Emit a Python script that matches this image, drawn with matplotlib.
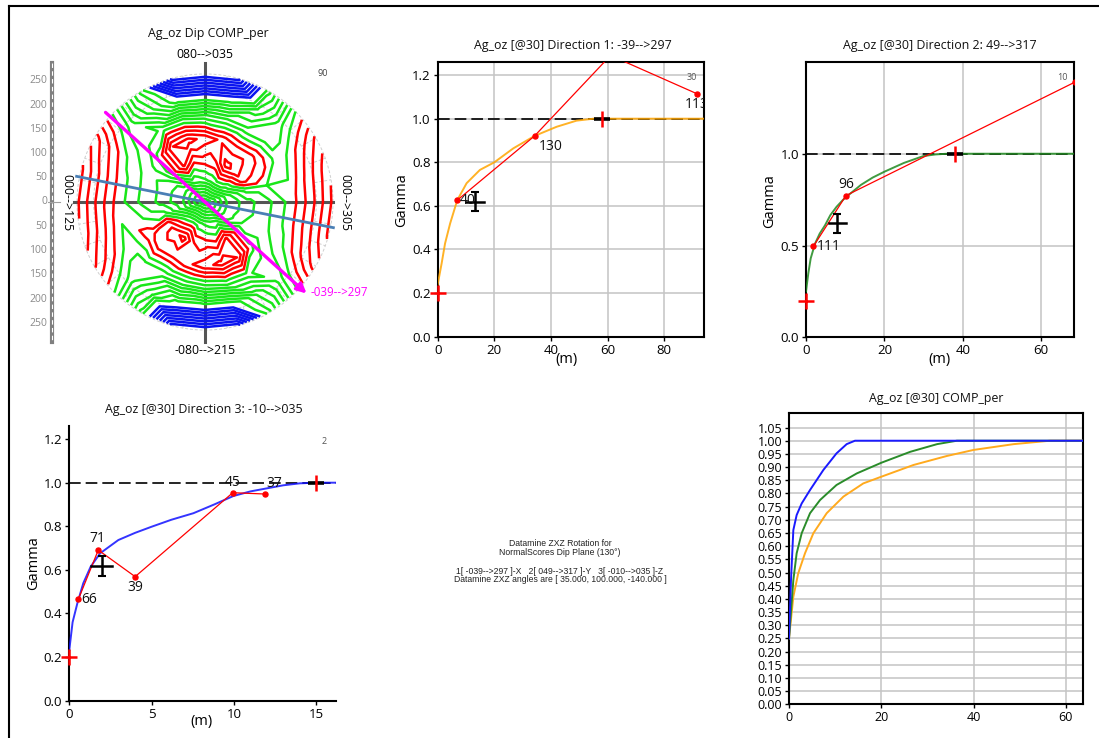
import numpy as np
import matplotlib
matplotlib.use("Agg")
import matplotlib.pyplot as plt
import matplotlib.tri as mtri

plt.rcParams['font.family'] = ['Open Sans', 'DejaVu Sans']

# ---------------------------------------------------------------- data
# Variogram map in the dip plane: gamma by direction (half circle, the
# opposite direction carries the same value) and by fraction of max lag.
map_angles_deg = [0, 15, 30, 45, 60, 75, 90, 105, 120, 135, 150, 165]
map_radius_frac = [0.17, 0.33, 0.50, 0.67, 0.83, 1.00]
map_center_gamma = 0.50
map_gamma = [
    [0.70, 0.78, 0.84, 0.92, 1.03, 1.16],
    [0.72, 0.86, 0.90, 0.90, 1.02, 1.14],
    [0.80, 1.02, 0.98, 0.86, 0.96, 1.06],
    [0.86, 1.08, 1.02, 0.84, 0.84, 0.90],
    [0.88, 1.12, 1.00, 0.80, 0.66, 0.58],
    [0.86, 1.00, 1.04, 0.80, 0.50, 0.12],
    [0.84, 0.98, 1.08, 0.82, 0.48, 0.10],
    [0.82, 0.96, 1.12, 0.85, 0.50, 0.12],
    [0.80, 1.06, 1.10, 0.86, 0.66, 0.58],
    [0.72, 0.94, 0.92, 0.82, 0.84, 0.88],
    [0.70, 0.80, 0.82, 0.88, 0.98, 1.08],
    [0.70, 0.78, 0.84, 0.92, 1.03, 1.16],
]
map_levels_blue = [0.15, 0.20, 0.25, 0.30, 0.35, 0.40, 0.45]
map_levels_green = [0.55, 0.60, 0.65, 0.70, 0.75, 0.80, 0.85, 0.90]
map_levels_red = [0.95, 1.00, 1.05, 1.10, 1.15]
map_max_lag = 264
map_scale_ticks = [250, 200, 150, 100, 50, 0, -50, -100, -150, -200, -250]
map_dir1_angle = -42.0      # -039-->297 trace on the map
map_dir2_angle = -11.3      # second trace on the map

# Direction 1: -39-->297
d1_lag = [6.9, 34.2, 61.0, 91.4]
d1_gamma = [0.626, 0.921, 1.29, 1.115]
d1_pairs = ['40', '130', None, '113']
d1_model_lag = [0, 1.4, 2.6, 4.4, 6.9, 10.2, 14.9, 20, 26.7, 34.2, 42, 49, 55, 94.1]
d1_model_gamma = [0.24, 0.337, 0.428, 0.52, 0.626, 0.704, 0.765, 0.80, 0.864,
                  0.921, 0.963, 0.991, 1.0, 1.0]
d1_nugget = 0.2
d1_range = 58
d1_cross = (13.2, 0.62)

# Direction 2: 49-->317
d2_lag = [1.87, 10.2, 68.6]
d2_gamma = [0.495, 0.772, 1.39]
d2_pairs = ['111', '96', None]
d2_model_lag = [0, 0.6, 1.2, 2.3, 3.5, 4.85, 6.2, 7.8, 9.5, 11.2, 14, 17, 20, 25,
                29.9, 33, 36, 68.45]
d2_model_gamma = [0.25, 0.35, 0.43, 0.51, 0.565, 0.61, 0.665, 0.711, 0.75, 0.781,
                  0.83, 0.87, 0.902, 0.95, 0.987, 0.996, 1.0, 1.0]
d2_nugget = 0.2
d2_range = 38
d2_cross = (8.0, 0.62)

# Direction 3: -10-->035
d3_lag = [0.55, 1.76, 4.0, 9.93, 11.9]
d3_gamma = [0.465, 0.691, 0.569, 0.954, 0.948]
d3_pairs = ['66', '71', '39', '45', '37']
d3_model_lag = [0, 0.2, 0.49, 0.85, 1.3, 1.87, 2.98, 4.0, 5.0, 6.2, 7.54, 8.8,
                9.97, 11, 12, 13, 14, 15, 16.2]
d3_model_gamma = [0.233, 0.36, 0.447, 0.539, 0.615, 0.676, 0.737, 0.77, 0.798,
                  0.83, 0.86, 0.9, 0.939, 0.96, 0.974, 0.988, 0.997, 1.0, 1.0]
d3_nugget = 0.2
d3_range = 15
d3_cross = (1.97, 0.62)

# Combined models
comp_blue_lag = [0, 0.43, 0.94, 1.66, 2.75, 4.56, 7.45, 10.3, 12.5, 14.3, 63.8]
comp_blue_gamma = [0.25, 0.471, 0.661, 0.718, 0.762, 0.813, 0.889, 0.952, 0.987, 1.0, 1.0]
comp_green_lag = [0, 0.94, 1.66, 2.75, 4.56, 6.73, 10.3, 14.7, 20.1, 26.3, 32.1, 36.4, 63.8]
comp_green_gamma = [0.25, 0.471, 0.573, 0.649, 0.725, 0.775, 0.832, 0.876, 0.917,
                    0.958, 0.987, 1.0, 1.0]
comp_orange_lag = [0, 0.94, 2.0, 3.47, 5.28, 8.17, 11.8, 16.1, 20.1, 27, 34.2, 40,
                   48.7, 56.6, 63.8]
comp_orange_gamma = [0.25, 0.408, 0.497, 0.573, 0.649, 0.725, 0.788, 0.838, 0.864,
                     0.908, 0.942, 0.965, 0.987, 1.0, 1.0]
comp_yticks = [0.00, 0.05, 0.10, 0.15, 0.20, 0.25, 0.30, 0.35, 0.40, 0.45, 0.50,
               0.55, 0.60, 0.65, 0.70, 0.75, 0.80, 0.85, 0.90, 0.95, 1.00, 1.05]

rotation_text = [
    "Datamine ZXZ Rotation for",
    "NormalScores Dip Plane (130\u00b0)",
    "",
    "1[ -039-->297 ]-X   2[ 049-->317 ]-Y   3[ -010-->035 ]-Z",
    "Datamine ZXZ angles are [ 35.000, 100.000, -140.000 ]",
]

# ---------------------------------------------------------------- layout
W, H = 1099, 738
fig = plt.figure(figsize=(W / 100, H / 100), dpi=100)


def px_axes(x0, y0, x1, y1):
    """Axes from a pixel box given with a top-left origin."""
    return fig.add_axes([x0 / W, 1 - y1 / H, (x1 - x0) / W, (y1 - y0) / H])


RED = '#ff0000'
GRID = '#c4c4c4'
PX = 0.72  # points per pixel


def style_axes(ax, box=True, grid=True, size=9.5):
    for name, sp in ax.spines.items():
        sp.set_linewidth(1.5)
        sp.set_color('black')
        if not box and name in ('top', 'right'):
            sp.set_visible(False)
    if grid:
        ax.grid(True, color=GRID, lw=1.1)
    ax.set_axisbelow(True)
    ax.tick_params(labelsize=size, length=3, width=1, pad=2, colors='black')


def draw_direction(ax, lag, gamma, pairs, offsets, m_lag, m_gamma, m_color,
                   nugget, rng, cross, cross_err, xmax, small):
    # sill
    ax.plot([0, xmax], [1, 1], color='black', lw=1.2, dashes=(7, 3), zorder=2)
    # model
    ax.plot(m_lag, m_gamma, color=m_color, lw=1.4, alpha=0.85, zorder=3)
    # experimental
    ax.plot(lag, gamma, color=RED, lw=0.9, marker='o', ms=3.6, zorder=4)
    for x, y, lab, (dx, dy, ha, va) in zip(lag, gamma, pairs, offsets):
        if lab is None:
            continue
        ax.annotate(lab, (x, y), xytext=(dx * PX, dy * PX), textcoords='offset points',
                    ha=ha, va=va, fontsize=10, color='#111111', zorder=6,
                    clip_on=True)
    # nugget and range marks
    ax.plot(0, nugget, marker='+', ms=12, mew=1.8, color=RED, clip_on=False, zorder=5)
    ax.plot(rng, 1, marker='_', ms=12, mew=2.6, color='black', clip_on=False, zorder=5)
    ax.plot(rng, 1, marker='|', ms=12, mew=1.8, color=RED, clip_on=False, zorder=6)
    # centre cross
    cx, cy = cross
    ex, ey = cross_err
    ax.errorbar(cx, cy, yerr=ey, capsize=3, color='black', lw=1.8, capthick=1.5,
                zorder=5)
    ax.plot([cx - ex, cx + ex], [cy, cy], color='black', lw=1.8, zorder=5)
    ax.text(0.955, 0.96, small, transform=ax.transAxes, ha='center', va='top',
            fontsize=6.5, color='#555555')


# ---------------------------------------------------------------- variogram map
axm = px_axes(45, 56.5, 365, 347.5)
axm.set_xlim(-330, 330)
axm.set_ylim(-300, 300)
axm.axis('off')

R = map_max_lag
# faint polar grid
th = np.linspace(0, 2 * np.pi, 361)
for rr in (R, 0.87 * R):
    axm.plot(rr * np.cos(th), rr * np.sin(th), color='#cfcfcf', lw=0.7,
             dashes=(3, 2), zorder=1)
for a in range(0, 360, 10):
    t = np.radians(a)
    axm.plot([0.87 * R * np.cos(t), R * np.cos(t)], [0.87 * R * np.sin(t), R * np.sin(t)],
             color='#cfcfcf', lw=0.7, dashes=(3, 2), zorder=1)

# axes of the map
axm.plot([-270, 264], [0, 0], color='#555555', lw=2.2, zorder=1)
axm.plot([0, 0], [287, 186], color='#555555', lw=2.2, zorder=1)
axm.plot([0, 0], [-188, -289], color='#555555', lw=2.2, zorder=1)
axm.plot([0, 0], [186, -188], color='#777777', lw=0.8, dashes=(1, 1.5), zorder=1)

# contour field
xs, ys, vs = [0.0], [0.0], [map_center_gamma]
for half in (0, 180):
    for ang, row in zip(map_angles_deg, map_gamma):
        t = np.radians(ang + half)
        for rf, g in zip(map_radius_frac, row):
            xs.append(rf * R * np.cos(t))
            ys.append(rf * R * np.sin(t))
            vs.append(g)
tri = mtri.Triangulation(xs, ys)
for levels, col in ((map_levels_green, '#19e619'), (map_levels_red, '#ff0000'),
                    (map_levels_blue, '#0a14f0')):
    axm.tricontour(tri, vs, levels=levels, colors=col, linewidths=1.8, zorder=2)

# traces of the directions
t2 = np.radians(map_dir2_angle)
axm.plot([-270 * np.cos(t2), 270 * np.cos(t2)], [-270 * np.sin(t2), 270 * np.sin(t2)],
         color='#4a7fb5', lw=2.0, zorder=3)
t1 = np.radians(map_dir1_angle)
axm.annotate('', xy=(282 * np.cos(t1), 282 * np.sin(t1)),
             xytext=(-276 * np.cos(t1), -276 * np.sin(t1)),
             arrowprops=dict(arrowstyle='-|>', color='#ff00ff', lw=2.4,
                             mutation_scale=14, shrinkA=0, shrinkB=0), zorder=4)

# ---------------------------------------------------------------- direction 1
ax1 = px_axes(437.7, 62, 704.3, 336.7)
ax1.set_xlim(0, 94.1)
ax1.set_ylim(0, 1.26)
ax1.set_xticks([0, 20, 40, 60, 80])
ax1.set_yticks([0.0, 0.2, 0.4, 0.6, 0.8, 1.0, 1.2])
ax1.yaxis.set_major_formatter('{x:.1f}')
style_axes(ax1)
draw_direction(ax1, d1_lag, d1_gamma, d1_pairs,
               [(3, 0, 'left', 'center'), (4, -3, 'left', 'top'), (0, 0, 'left', 'top'),
                (0, -3, 'center', 'top')],
               d1_model_lag, d1_model_gamma, '#ffa500', d1_nugget, d1_range,
               d1_cross, (3.2, 0.044), 94.1, '30')

# ---------------------------------------------------------------- direction 2
ax2 = px_axes(806, 62.3, 1074.3, 337.3)
ax2.set_xlim(0, 68.45)
ax2.set_ylim(0, 1.498)
ax2.set_xticks([0, 20, 40, 60])
ax2.set_yticks([0.0, 0.5, 1.0])
ax2.yaxis.set_major_formatter('{x:.1f}')
style_axes(ax2)
draw_direction(ax2, d2_lag, d2_gamma, d2_pairs,
               [(3, 0, 'left', 'center'), (0, 4, 'center', 'bottom'), (0, 0, 'left', 'top')],
               d2_model_lag, d2_model_gamma, '#1f8a1f', d2_nugget, d2_range,
               d2_cross, (2.2, 0.05), 68.45, '10')

# ---------------------------------------------------------------- direction 3
ax3 = px_axes(69.3, 426, 336, 700.7)
ax3.set_xlim(0, 16.2)
ax3.set_ylim(0, 1.26)
ax3.set_xticks([0, 5, 10, 15])
ax3.set_yticks([0.0, 0.2, 0.4, 0.6, 0.8, 1.0, 1.2])
ax3.yaxis.set_major_formatter('{x:.1f}')
style_axes(ax3, box=False, grid=False)
draw_direction(ax3, d3_lag, d3_gamma, d3_pairs,
               [(3, 0, 'left', 'center'), (-1, 4, 'center', 'bottom'),
                (0, -3, 'center', 'top'), (0, 3, 'center', 'bottom'),
                (1, 3, 'left', 'bottom')],
               d3_model_lag, d3_model_gamma, '#1010ff', d3_nugget, d3_range,
               d3_cross, (0.65, 0.046), 16.2, '2')

# ---------------------------------------------------------------- combined
ax4 = px_axes(789, 413.3, 1083.3, 704.3)
ax4.set_xlim(0, 63.8)
ax4.set_ylim(0, 1.104)
ax4.set_xticks([0, 20, 40, 60])
ax4.set_yticks(comp_yticks)
ax4.yaxis.set_major_formatter('{x:.2f}')
style_axes(ax4, size=9)
ax4.plot(comp_orange_lag, comp_orange_gamma, color='#ffaa1e', lw=1.4, zorder=3)
ax4.plot(comp_green_lag, comp_green_gamma, color='#2a8c2a', lw=1.4, zorder=3)
ax4.plot(comp_blue_lag, comp_blue_gamma, color='#1a1aff', lw=1.4, zorder=4)

# ---------------------------------------------------------------- annotations
ov = fig.add_axes([0, 0, 1, 1])
ov.set_xlim(0, W)
ov.set_ylim(H, 0)
ov.axis('off')

# frame
ov.plot([8.5, W], [5.5, 5.5], color='black', lw=1.5)
ov.plot([8.5, 8.5], [5.5, H], color='black', lw=1.5)

# titles
for x, y, s in ((208, 33, 'Ag_oz Dip COMP_per'),
                (572.7, 46, 'Ag_oz [@30] Direction 1: -39-->297'),
                (940, 46, 'Ag_oz [@30] Direction 2: 49-->317'),
                (204, 409, 'Ag_oz [@30] Direction 3: -10-->035'),
                (935.7, 398.5, 'Ag_oz [@30] COMP_per')):
    ov.text(x, y, s, ha='center', va='center', fontsize=8.9, color='#111111')

# axis titles
for x, y in ((402, 200), (770, 200.7), (33.3, 563.3)):
    ov.text(x, y, 'Gamma', rotation=90, ha='center', va='center', fontsize=10.5)
for x, y in ((566.7, 359), (939.3, 359), (201.7, 722)):
    ov.text(x, y, '(m)', ha='center', va='center', fontsize=10.5)

# map labels
ov.text(205, 55, '080-->035', ha='center', va='center', fontsize=8.8)
ov.text(205, 350, '-080-->215', ha='center', va='center', fontsize=8.8)
ov.text(67, 203, '000-->125', rotation=270, ha='center', va='center', fontsize=8.8)
ov.text(345, 203, '000-->305', rotation=270, ha='center', va='center', fontsize=8.8)
ov.text(323, 73, '90', ha='center', va='center', fontsize=6.5, color='#444444')
ov.text(311, 292, '-039-->297', ha='left', va='center', fontsize=8.3, color='#ff00ff')

# lag scale of the map
ov.plot([52, 52], [63, 342], color='#808080', lw=3.0)
ov.plot([52, 52], [63, 342], color='white', lw=0.8, dashes=(4, 3))
ov.plot([48, 60], [202, 202], color='#a0a0a0', lw=0.8)
for v in map_scale_ticks:
    ov.text(47, 202 - v * 0.485, str(abs(v)), ha='right', va='center', fontsize=7.5,
            color='#8a8a8a')

# rotation note
for s, y in zip(rotation_text, (543, 552.5, 562, 571.5, 580)):
    if s:
        ov.text(560, y, s, ha='center', va='center', fontsize=6.2,
                family=['Liberation Sans', 'DejaVu Sans'], color='#222222')

fig.savefig('out.png', dpi=100, facecolor='white')
